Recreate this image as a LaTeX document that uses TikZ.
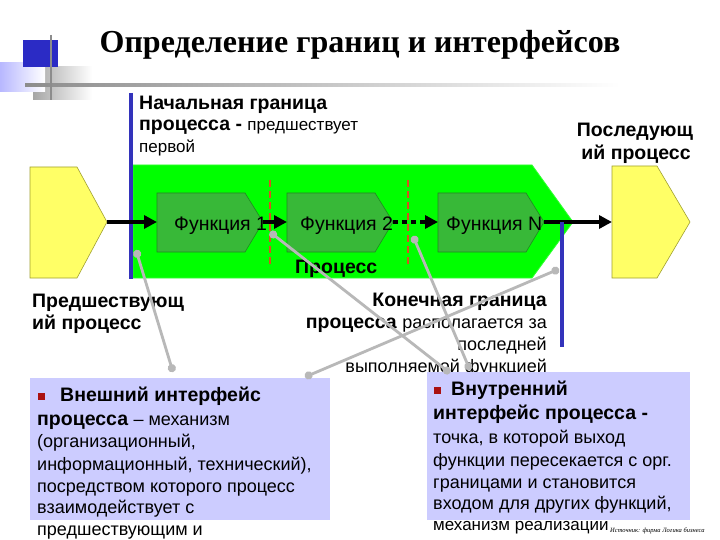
\documentclass[tikz,border=0pt]{standalone}
\usepackage{fontspec}
\setmainfont{Liberation Serif}
\setsansfont{Liberation Sans}
\usetikzlibrary{arrows.meta}
\definecolor{yel}{HTML}{FFFF66}
\definecolor{yelb}{HTML}{A0A030}
\definecolor{grn}{HTML}{00FF00}
\definecolor{fgrn}{HTML}{38B838}
\definecolor{fgrnb}{HTML}{208A20}
\definecolor{bln}{HTML}{3333BB}
\definecolor{lav}{HTML}{CCCCFF}
\definecolor{conn}{HTML}{B8B8B8}
\definecolor{rdash}{HTML}{D85020}
\definecolor{bul}{HTML}{AA1111}
\begin{document}
\begin{tikzpicture}[x=1pt,y=-1pt,
  txt/.style={inner sep=0pt,anchor=base west,font=\sffamily\fontsize{18}{21}\selectfont},
  btxt/.style={txt,font=\sffamily\bfseries\fontsize{19.5}{22}\selectfont},
  fun/.style={fill=fgrn,draw=fgrnb,line width=0.6pt},
  flab/.style={inner sep=0pt,anchor=base west,font=\sffamily\fontsize{19.5}{22}\selectfont},
  proc/.style={fill=yel,draw=yelb,line width=0.6pt},
  flow/.style={line width=4.5pt,-{Triangle[length=13pt,width=13pt]}},
  bound/.style={draw=bln,line width=4pt},
  rd/.style={draw=rdash,line width=1.6pt,dash pattern=on 7pt off 4pt},
  gconn/.style={draw=conn,line width=2.8pt,{Circle[length=8pt,fill=conn]}-{Circle[length=8pt,fill=conn]}},
  ibox/.style={fill=lav,draw=none},
  bulsq/.style={fill=bul,draw=none,minimum size=7pt,inner sep=0pt}]
\useasboundingbox (0,0) rectangle (720,540);
\fill[white] (0,0) rectangle (720,540);
% logo
\shade[left color=gray!70,right color=white] (33,67) rectangle (92,100);
\shade[left color=lav!90!blue,right color=white] (0,63) rectangle (45,92);
\fill[bln!85!blue] (23,40) rectangle (58,67);
\shade[left color=gray!90,right color=white] (25,84) rectangle (620,86.5);
\draw[gray!90,line width=2pt] (51,35) -- (51,100);
% title
\node[inner sep=0pt,anchor=base,font=\rmfamily\bfseries\fontsize{32}{36}\selectfont] (title) at (360,53) {Определение границ и интерфейсов};
% start boundary text
\node[btxt] (sb1) at (139,110) {Начальная граница};
\node[txt] (sb2) at (139,131) {\bfseries\fontsize{19.5}{22}\selectfont процесса - \mdseries\fontsize{17}{21}\selectfont предшествует};
\node[txt,font=\sffamily\fontsize{17}{21}\selectfont] (sb3) at (139,153) {первой};
% next process text
\node[btxt,anchor=base] (np1) at (635,137) {Последующ};
\node[btxt,anchor=base] (np2) at (636,160) {ий процесс};
% yellow processes
\draw[proc] (30,167) -- (77,167) -- (107,222) -- (77,278) -- (30,278) -- cycle;
\coordinate (pin) at (107,222);
\draw[proc] (612,166) -- (657,166) -- (690,222) -- (657,278) -- (612,278) -- cycle;
\coordinate (pout) at (612,222);
% green process
\draw[fill=grn,draw=grn!80!white,line width=0.8pt] (133,165) -- (532,165) -- (573,222) -- (532,278) -- (133,278) -- cycle;
\draw[bound] (131,93) -- (131,279);
% functions
\draw[fun] (157,193) -- (245,193) -- (263,222) -- (245,252) -- (157,252) -- cycle;
\coordinate (f1in) at (157,222); \coordinate (f1out) at (263,222);
\draw[fun] (287,193) -- (375,193) -- (393,222) -- (375,252) -- (287,252) -- cycle;
\coordinate (f2in) at (287,222); \coordinate (f2out) at (393,222);
\draw[fun] (438,193) -- (526,193) -- (544,222) -- (526,252) -- (438,252) -- cycle;
\coordinate (fnin) at (438,222); \coordinate (fnout) at (544,222);
\node[flab] (fl1) at (174,230) {Функция 1};
\node[flab] (fl2) at (300,230) {Функция 2};
\node[flab] (fln) at (446,230) {Функция N};
\node[btxt] (proclab) at (295,273) {Процесс};
% red dashed
\draw[rd] (270,180) -- (270,268);
\draw[rd] (408,180) -- (408,268);
% flows
\draw[flow] (pin) -- (f1in);
\draw[flow] (f1out) -- (f2in);
\draw[line width=4.5pt,dash pattern=on 5pt off 4pt] (f2out) -- (425,222);
\draw[flow] (425,222) -- (fnin);
\draw[flow] (fnout) -- (pout);
% end boundary
\draw[bound] (562,222) -- (562,347);
% left labels
\node[btxt] (pp1) at (32,307) {Предшествующ};
\node[btxt] (pp2) at (32,329) {ий процесс};
% end boundary text
\node[btxt,anchor=base east] (eb1) at (547,306) {Конечная граница};
\node[txt,anchor=base east] (eb2) at (547,328) {\bfseries\fontsize{19.5}{22}\selectfont процесса \mdseries\fontsize{18}{21}\selectfont располагается за};
\node[txt,anchor=base east] (eb3) at (547,350) {последней};
\node[txt,anchor=base east] (eb4) at (547,372) {выполняемой функцией};
% interface boxes
\fill[ibox] (30,378) rectangle (330,520);
\fill[ibox] (427,372) rectangle (690,520);
\node[bulsq] (b1) at (41.5,396) {};
\node[btxt] (e1) at (60,401) {Внешний интерфейс};
\node[txt] (e2) at (37,425) {\bfseries\fontsize{19.5}{22}\selectfont процесса \mdseries\fontsize{18}{21}\selectfont -- механизм};
\node[txt] (e3) at (37,447) {(организационный,};
\node[txt] (e4) at (37,470) {информационный, технический),};
\node[txt] (e5) at (37,492) {посредством которого процесс};
\node[txt] (e6) at (37,513) {взаимодействует с};
\node[txt] (e7) at (37,535) {предшествующим и};
\node[bulsq] (b2) at (437,390) {};
\node[btxt] (i1) at (451,395) {Внутренний};
\node[btxt] (i2) at (433,419) {интерфейс процесса -};
\node[txt] (i3) at (433,443) {точка, в которой выход};
\node[txt] (i4) at (433,466) {функции пересекается с орг.};
\node[txt] (i5) at (433,488) {границами и становится};
\node[txt] (i6) at (433,509) {входом для других функций,};
\node[txt,font=\sffamily\fontsize{17}{21}\selectfont] (i7) at (433,530) {механизм реализации};
\node[inner sep=0pt,anchor=base west,font=\rmfamily\itshape\fontsize{6.5}{7}\selectfont] (src) at (610,532) {Источник: фирма Логика бизнеса};
% connectors
\coordinate (c1a) at (136,250); \coordinate (c1b) at (173,372);
\coordinate (c2a) at (270,232); \coordinate (c2b) at (450,373);
\coordinate (c3a) at (413,236); \coordinate (c3b) at (470,370);
\coordinate (c4a) at (559,269); \coordinate (c4b) at (305,377);
\draw[gconn] (c1a) -- (c1b);
\draw[gconn] (c2a) -- (c2b);
\draw[gconn] (c3a) -- (c3b);
\draw[gconn] (c4a) -- (c4b);
\end{tikzpicture}
\end{document}
